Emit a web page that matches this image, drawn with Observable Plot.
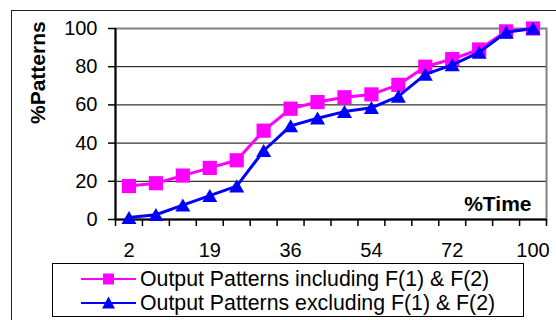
<!DOCTYPE html>
<html><head><meta charset="utf-8">
<script src="https://cdn.jsdelivr.net/npm/d3@7"></script>
<script src="https://cdn.jsdelivr.net/npm/@observablehq/plot@0.6"></script>
<style>
html,body{margin:0;padding:0;background:#fff;overflow:hidden}
#wrap{position:relative;width:556px;height:320px;overflow:hidden;font-family:Arial,"Liberation Sans",sans-serif;background:#fff}
#border{position:absolute;left:11px;top:10px;width:600px;height:400px;border:1px solid #222}
#chart{position:absolute;left:0;top:0}
#legend{position:absolute;left:52px;top:263px;width:472px;height:54px;border:1px solid #000;box-sizing:border-box;background:#fff}
.row{position:absolute;left:28px;height:24px;display:flex;align-items:center;font-size:21.3px;white-space:nowrap;color:#000}
.row svg{margin-right:4px;overflow:visible}
</style></head><body>
<div id="wrap"><div id="border"></div><div id="chart"></div><div id="legend"></div></div>
<script>
// Data
const timeLabels = ["2","8","13","19","25","30","36","42","48","54","60","66","72","81","90","100"];
const shownLabels = ["2","19","36","54","72","100"];
const includingF = [17.5, 19, 23, 27, 31, 46.5, 58, 61.5, 64, 65.5, 70.5, 80, 84, 89, 98.5, 100];
const excludingF = [1, 2.5, 7.5, 12.5, 17.5, 36, 49, 53, 56.5, 58.5, 64.5, 76, 81, 87.5, 98, 100];
const seriesNames = ["Output Patterns including F(1) & F(2)", "Output Patterns excluding F(1) & F(2)"];
const colors = ["#FF00FF", "#0000FF"];
const yTicks = [0, 20, 40, 60, 80, 100];
const xTitle = "%Time";
const yTitle = "%Patterns";

const inc = includingF.map((v, i) => ({i, v}));
const exc = excludingF.map((v, i) => ({i, v}));
const bounds = d3.range(timeLabels.length + 1).map(k => k - 0.5);
const labelIdx = timeLabels.map((_, i) => i).filter(i => shownLabels.includes(timeLabels[i]));

const chart = Plot.plot({
  width: 556, height: 262,
  marginLeft: 115, marginRight: 10, marginTop: 28, marginBottom: 43,
  style: {fontFamily: "Arial, 'Liberation Sans', sans-serif", fontSize: "20px", background: "transparent", overflow: "visible", color: "#000"},
  x: {type: "linear", domain: [-0.5, timeLabels.length - 0.5]},
  y: {domain: [0, 100]},
  marks: [
    Plot.ruleY(yTicks.slice(1, -1), {stroke: "#000", strokeWidth: 1}),
    Plot.frame({stroke: "#808080", strokeWidth: 2}),
    Plot.axisY(yTicks, {tickSize: 7, tickPadding: 11, label: null, strokeWidth: 1.5}),
    Plot.axisX(bounds, {tickSize: 7, tickFormat: () => "", label: null, strokeWidth: 1.5}),
    Plot.axisX(labelIdx, {tickSize: 0, tickPadding: 23, tickFormat: i => timeLabels[i], label: null}),
    Plot.ruleX([-0.5], {stroke: "#000", strokeWidth: 2}),
    Plot.ruleY([0], {stroke: "#000", strokeWidth: 2}),
    Plot.line(inc, {x: "i", y: "v", stroke: colors[0], strokeWidth: 3}),
    Plot.dot(inc, {x: "i", y: "v", symbol: "square", r: 8, fill: colors[0]}),
    Plot.line(exc, {x: "i", y: "v", stroke: colors[1], strokeWidth: 3}),
    Plot.dot(exc, {x: "i", y: "v", symbol: "triangle", r: 5.6, fill: colors[1], dy: 2}),
    Plot.text([xTitle], {frameAnchor: "bottom-right", dx: -15, dy: -9, textAnchor: "end", lineAnchor: "bottom", fontWeight: "bold", fontSize: 21}),
    Plot.text([yTitle], {frameAnchor: "left", rotate: -90, dx: -77, fontWeight: "bold", fontSize: 21})
  ]
});
document.getElementById("chart").appendChild(chart);

// Legend
const legend = document.getElementById("legend");
const symbolsSvg = [
  c => `<rect x="22" y="1.5" width="11" height="11" fill="${c}"/>`,
  c => `<path d="M27.5,0.5 L34,12.5 L21,12.5 Z" fill="${c}"/>`
];
seriesNames.forEach((name, k) => {
  const row = document.createElement("div");
  row.className = "row";
  row.style.top = (3 + k * 24) + "px";
  row.innerHTML = `<svg width="55" height="14"><line x1="0" x2="55" y1="7" y2="7" stroke="${colors[k]}" stroke-width="2"/>${symbolsSvg[k](colors[k])}</svg><span>${name}</span>`;
  legend.appendChild(row);
});
</script>
</body></html>
